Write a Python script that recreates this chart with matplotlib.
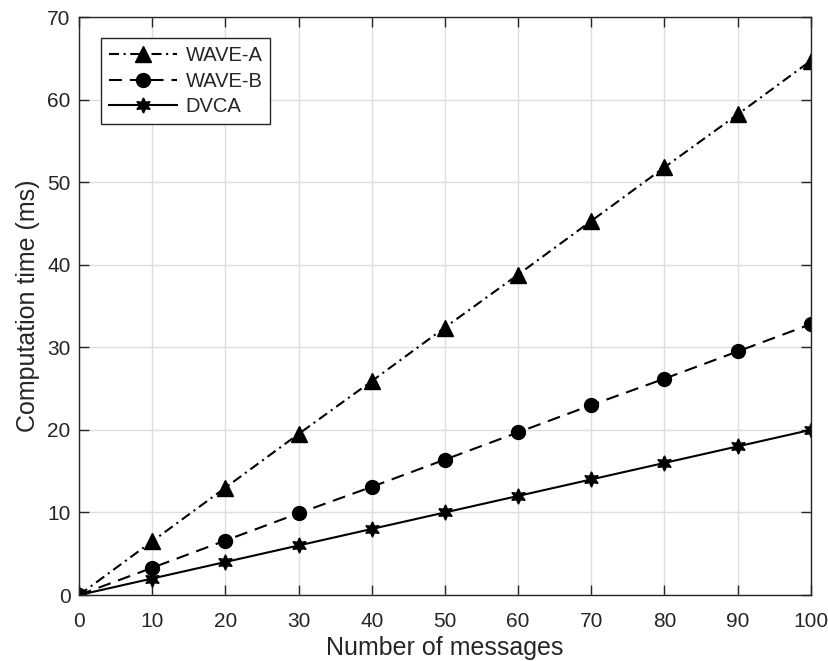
import matplotlib
matplotlib.use('Agg')
import matplotlib.pyplot as plt
import numpy as np

plt.rcParams['font.family'] = ['Liberation Sans', 'DejaVu Sans']

# number of messages vs. computation time (ms)
messages = [0, 10, 20, 30, 40, 50, 60, 70, 80, 90, 100]
wave_a = [0, 6.5, 13.0, 19.5, 25.9, 32.4, 38.8, 45.3, 51.8, 58.2, 64.7]
wave_b = [0, 3.3, 6.6, 9.9, 13.1, 16.4, 19.7, 23.0, 26.2, 29.5, 32.8]
dvca = [0, 2, 4, 6, 8, 10, 12, 14, 16, 18, 20]

x_ticks = np.arange(0, 101, 10)
y_ticks = np.arange(0, 71, 10)

axis_gray = '#262626'

fig = plt.figure(figsize=(8.29, 6.61), dpi=100)
ax = fig.add_axes([0.0953, 0.0998, 0.8827, 0.8744])

ax.plot(messages, wave_a, color='k', lw=1.5, linestyle=(0, (4.8, 2.2, 1.0, 2.2)),
        marker='^', markersize=11, label='WAVE-A')
ax.plot(messages, wave_b, color='k', lw=1.5, linestyle=(0, (6.2, 3.8)),
        marker='o', markersize=10, label='WAVE-B')
ax.plot(messages, dvca, color='k', lw=1.5, linestyle='-',
        marker=(6, 1, 0), markersize=11, label='DVCA')

ax.set_xlim(0, 100)
ax.set_ylim(0, 70)
ax.set_xticks(x_ticks)
ax.set_yticks(y_ticks)
ax.grid(True, color='#dedede', linewidth=1.0)
ax.set_axisbelow(True)

for s in ax.spines.values():
    s.set_color(axis_gray)
    s.set_linewidth(1.0)
ax.tick_params(direction='in', length=7, width=1.0, color=axis_gray,
               top=True, right=True, labelsize=15, labelcolor=axis_gray)
ax.tick_params(axis='x', pad=12)
ax.tick_params(axis='y', pad=6)

ax.set_xlabel('Number of messages', fontsize=18, color=axis_gray, labelpad=4)
ax.set_ylabel('Computation time (ms)', fontsize=18, color=axis_gray, labelpad=5)

leg = ax.legend(loc='upper left', bbox_to_anchor=(0.030, 0.964), borderaxespad=0,
                fontsize=14.5, handlelength=3.4, handletextpad=0.4, labelspacing=0.33,
                borderpad=0.4, fancybox=False, framealpha=1)
leg.get_frame().set_edgecolor(axis_gray)
leg.get_frame().set_linewidth(1.0)
for t in leg.get_texts():
    t.set_color(axis_gray)

fig.savefig('out.png', dpi=100)
